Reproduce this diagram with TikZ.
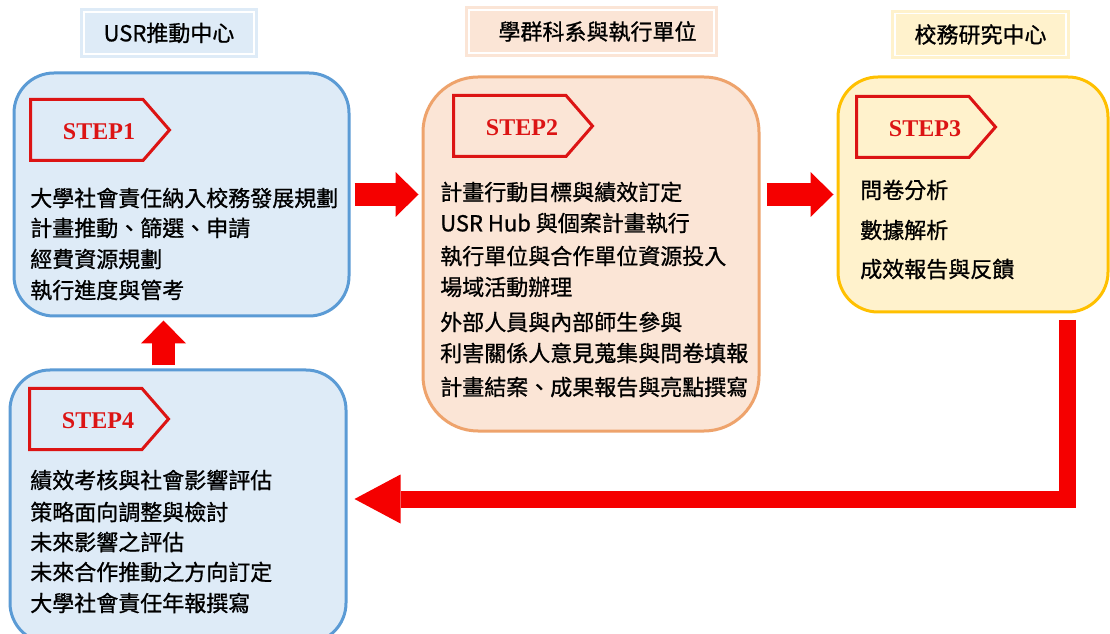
\documentclass[tikz,border=0pt]{standalone}
\usepackage{fontspec}
\usetikzlibrary{arrows.meta}
\newfontfamily\cjk{Noto Sans CJK TC}[FakeBold=0.9]
\newfontfamily\stepserif{Liberation Serif}
\definecolor{bluefill}{HTML}{DEEBF7}
\definecolor{blueline}{HTML}{5B9BD5}
\definecolor{peachfill}{HTML}{FBE5D6}
\definecolor{peachline}{HTML}{EEA36C}
\definecolor{yellowfill}{HTML}{FFF2CC}
\definecolor{yellowline}{HTML}{FFC000}
\definecolor{tagred}{HTML}{DC1414}
\definecolor{flowred}{HTML}{F50000}
\tikzstyle{header}=[rectangle,inner sep=0pt,line width=2.25pt,double=white,double distance=0.9pt,font=\cjk\fontsize{16.5}{16.5}\selectfont]
\tikzstyle{stage}=[rectangle,rounded corners=30pt,line width=2.25pt,inner sep=0pt]
\tikzstyle{tag}=[draw=tagred,line width=2.25pt,line join=miter]
\tikzstyle{steplabel}=[text=tagred,inner sep=0pt,font=\stepserif\bfseries\fontsize{18}{18}\selectfont]
\tikzstyle{item}=[anchor=west,inner sep=0pt,font=\cjk\fontsize{16.5}{16.5}\selectfont]
\tikzstyle{flow}=[draw=flowred,line width=17.25pt,-{Triangle[length=17.25pt,width=33.75pt,line width=0pt]}]
\tikzstyle{bigturn}=[draw=flowred,line width=12.75pt,-{Triangle[length=34.5pt,width=36.75pt,line width=0pt]}]

\begin{document}
\begin{tikzpicture}[x=0.75pt,y=-0.75pt]
			\useasboundingbox (0,0) rectangle (1110,634);
			\clip (0,0) rectangle (1110,634);
			\fill[white] (0,0) rectangle (1110,634);
			
			\node[header,draw=bluefill,fill=bluefill,minimum width=127.5pt,minimum height=31.5pt] (usr) at (169,33) {USR推動中心};
			\node[header,draw=peachfill,fill=peachfill,minimum width=183.75pt,minimum height=32.25pt] (dept) at (591.5,31.5) {\hspace{9pt}學群科系與執行單位};
			\node[header,draw=yellowfill,fill=yellowfill,minimum width=128.25pt,minimum height=31.5pt] (ir) at (980.5,34.5) {校務研究中心};
			
			\node[stage,draw=blueline,fill=bluefill,minimum width=251.25pt,minimum height=182.25pt] (box1) at (181.5,194.5) {};
			\node[stage,draw=peachline,fill=peachfill,rounded corners=41.25pt,minimum width=252pt,minimum height=265.5pt] (box2) at (591,254) {};
			\node[stage,draw=yellowline,fill=yellowfill,minimum width=202.5pt,minimum height=176.25pt] (box3) at (973,194.5) {};
			\node[stage,draw=blueline,fill=bluefill,minimum width=252pt,minimum height=204.75pt] (box4) at (178,506.5) {};
			
			\foreach \n/\x/\y in {1/30.5/99.5,2/453.5/95.5,3/856.5/96.5,4/29.5/388.5}
			{
				\draw[tag] (\x,\y) -- ++(112.5,0) -- ++(26.5,30.5) -- ++(-26.5,30.5) -- ++(-112.5,0) -- cycle;
				\node[steplabel] (step\n) at (\x+68.5,\y+32) {STEP\n};
			}
			
			\foreach \y/\t [count=\i] in {198/大學社會責任納入校務發展規劃,228/計畫推動、篩選、申請,259/經費資源規劃,290/執行進度與管考}
			\node[item] (a\i) at (30,\y) {\t};
			
			\foreach \y/\t [count=\i] in {192/計畫行動目標與績效訂定,223/USR Hub 與個案計畫執行,256/執行單位與合作單位資源投入,287/場域活動辦理,322/外部人員與內部師生參與,353/利害關係人意見蒐集與問卷填報,387/計畫結案、成果報告與亮點撰寫}
			\node[item] (b\i) at (440,\y) {\t};
			
			\foreach \y/\t [count=\i] in {190/問卷分析,230/數據解析,269/成效報告與反饋}
			\node[item] (c\i) at (860,\y) {\t};
			
			\foreach \y/\t [count=\i] in {480/績效考核與社會影響評估,512/策略面向調整與檢討,542/未來影響之評估,572/未來合作推動之方向訂定,603/大學社會責任年報撰寫}
			\node[item] (d\i) at (30,\y) {\t};
			
			\coordinate (turnstart) at (1067.5,320);
			\draw[flow,shorten <=3pt,shorten >=2.25pt] (box1.east) -- (box1.east -| box2.west);
			\draw[flow,shorten <=4.5pt,shorten >=2.25pt] (box2.east |- box3.west) -- (box3.west);
			\draw[flow,shorten <=2.25pt,shorten >=2.25pt] ([xshift=-10.875pt]box4.north) -- ([xshift=-10.875pt]box4.north |- box1.south);
			\draw[bigturn,shorten >=5.25pt] (turnstart) |- ([yshift=5.625pt]box4.east);
		\end{tikzpicture}
\end{document}
